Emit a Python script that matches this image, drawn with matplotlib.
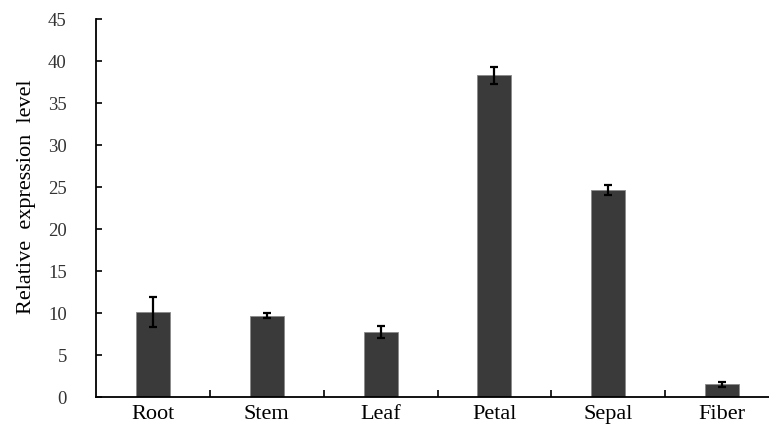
import matplotlib.pyplot as plt
import numpy as np

plt.rcParams['font.family'] = ['Liberation Serif', 'DejaVu Serif']

tissues = ["Root", "Stem", "Leaf", "Petal", "Sepal", "Fiber"]
expression = [10.1, 9.7, 7.7, 38.3, 24.6, 1.5]
errors = [1.8, 0.3, 0.7, 1.0, 0.6, 0.3]

fig = plt.figure(figsize=(7.69, 4.28), dpi=100)
ax = fig.add_axes([96 / 769, 31 / 428, 683 / 769, 378 / 428])

x = np.arange(len(tissues))
ax.bar(x, expression, width=0.3, color="#3a3a3a", edgecolor="#8a8a8a",
       linewidth=0.6, zorder=2)
ax.errorbar(x, expression, yerr=errors, fmt="none", ecolor="black",
            elinewidth=1.6, capsize=3, capthick=1.6, zorder=3)

ax.set_xlim(-0.5, len(tissues) - 0.5)
ax.set_ylim(0, 45)
ax.set_yticks(range(0, 46, 5))

# category labels centred under bars, ticks between categories
ax.set_xticks(x)
ax.set_xticklabels(tissues, fontsize=16)
ax.tick_params(axis="x", which="major", length=0, pad=6)
ax.set_xticks(x[:-1] + 0.5, minor=True)
ax.tick_params(axis="x", which="minor", direction="in", length=5, width=1.2)

ax.tick_params(axis="y", direction="in", length=4, width=1.2, labelsize=13.5,
               pad=21, colors="black", labelcolor="#333333")
ax.set_ylabel("Relative  expression  level", fontsize=16)
ax.yaxis.set_label_coords(-0.088, 0.53)

for side in ["top", "right"]:
    ax.spines[side].set_visible(False)
for side in ["left", "bottom"]:
    ax.spines[side].set_linewidth(1.3)

fig.savefig("out.png", dpi=100)
